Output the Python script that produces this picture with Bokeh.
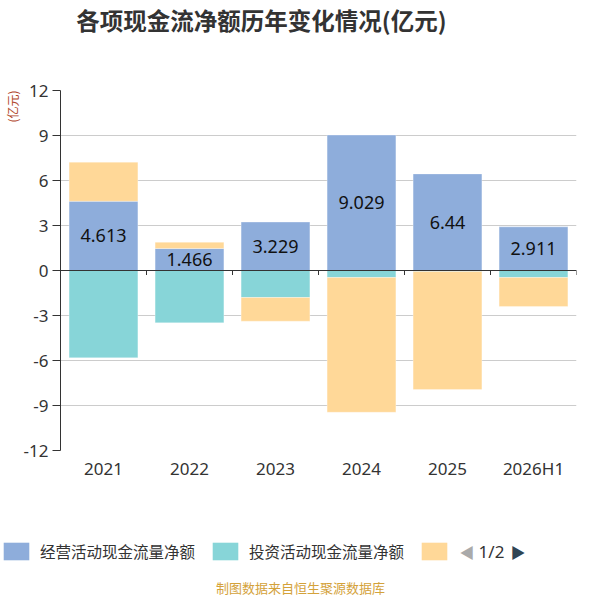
from bokeh.plotting import figure
from bokeh.models import (Span, Label, Legend, LegendItem, ColumnDataSource,
                          FixedTicker, Range1d, FactorRange, Title)
from bokeh.core.properties import value
from bokeh.embed import file_html
from bokeh.resources import INLINE

categories = ["2021", "2022", "2023", "2024", "2025", "2026H1"]
operating = [4.613, 1.466, 3.229, 9.029, 6.44, 2.911]
investing = [-5.82, -3.49, -1.80, -0.47, -0.06, -0.47]
financing = [2.61, 0.42, -1.58, -8.98, -7.88, -1.93]
series_names = ["经营活动现金流量净额", "投资活动现金流量净额", " "]
y_ticks = [-12, -9, -6, -3, 0, 3, 6, 9, 12]
title_text = "各项现金流净额历年变化情况(亿元)"
unit_text = "(亿元)"
source_text = "制图数据来自恒生聚源数据库"
page_text = "1/2"

colors = ["#8eaddb", "#87d5d8", "#ffd898"]
CJK = "Noto Sans CJK SC"
NUM = "Noto Sans"

W = 600
H0, H1, H2 = 40, 450, 106


def strip(h):
    f = figure(width=W, height=h, x_range=Range1d(0, W), y_range=Range1d(0, h),
               output_backend="svg", toolbar_location=None,
               min_border=0, min_border_left=0, min_border_right=0,
               min_border_top=0, min_border_bottom=0)
    f.axis.visible = False
    f.grid.visible = False
    f.outline_line_color = None
    return f


# top strip: title
t = strip(H0)
t.add_layout(Label(x=261, y=H0 - 19, text=title_text, text_align="center", text_baseline="middle",
                   text_font=CJK, text_font_size="23.5px", text_font_style="bold",
                   text_color="#333333"))

# main chart
p = figure(width=W, height=H1, x_range=FactorRange(*categories), y_range=Range1d(-12, 12),
           output_backend="svg", toolbar_location=None,
           min_border_left=60, min_border_right=24, min_border_top=90 - H0,
           min_border_bottom=H0 + H1 - 450)
p.outline_line_color = None
p.background_fill_color = "white"
p.border_fill_color = "white"

series = [operating, investing, financing]
pos_base = [0.0] * len(categories)
neg_base = [0.0] * len(categories)
renderers = []
for s, col in zip(series, colors):
    bottoms, tops = [], []
    for i, v in enumerate(s):
        if v >= 0:
            bottoms.append(pos_base[i]); tops.append(pos_base[i] + v); pos_base[i] += v
        else:
            bottoms.append(neg_base[i]); tops.append(neg_base[i] + v); neg_base[i] += v
    src = ColumnDataSource(dict(x=categories, top=tops, bottom=bottoms))
    r = p.vbar(x="x", top="top", bottom="bottom", width=0.8, source=src,
               fill_color=col, line_color="white", line_alpha=0.3, line_width=1)
    renderers.append(r)

lab_src = ColumnDataSource(dict(x=categories, y=[v / 2 for v in operating],
                                t=[("%g" % v) for v in operating]))
p.text(x="x", y="y", text="t", source=lab_src, text_align="center", text_baseline="middle",
       text_font=value(NUM), text_font_size="18px", text_color="#111111")

p.yaxis.ticker = FixedTicker(ticks=y_ticks)
p.yaxis.major_label_overrides = {tk: str(tk) for tk in y_ticks}
p.yaxis.axis_line_color = "#333333"
p.yaxis.major_tick_line_color = "#333333"
p.yaxis.major_tick_out = 8
p.yaxis.major_tick_in = 0
p.yaxis.minor_tick_line_color = None
p.yaxis.major_label_text_font = NUM
p.yaxis.major_label_text_font_size = "17px"
p.yaxis.major_label_text_color = "#333333"
p.yaxis.major_label_standoff = 4

p.xaxis.axis_line_color = None
p.xaxis.major_tick_line_color = None
p.xaxis.major_tick_out = 0
p.xaxis.major_tick_in = 0
p.xaxis.minor_tick_line_color = None
p.xaxis.major_label_text_font = NUM
p.xaxis.major_label_text_font_size = "17px"
p.xaxis.major_label_text_color = "#333333"
p.xaxis.major_label_standoff = 6

p.xgrid.grid_line_color = None
p.ygrid.grid_line_color = "#cccccc"
p.ygrid.grid_line_width = 1

p.add_layout(Title(text=unit_text, align="right", text_font=CJK, text_font_size="12px",
                   text_font_style="normal", text_color="#b0462a", standoff=0), "left")

p.add_layout(Span(location=0, dimension="width", line_color="#333333", line_width=1))
n = len(categories)
bx = [float(i) for i in range(1, n + 1)]
p.segment(x0=bx, y0=[0] * n, x1=bx, y1=[-0.3] * n, line_color="#333333", line_width=1)

# bottom strip: legend, pager, source note
q = strip(H2)
dummy = []
for col in colors:
    d = q.vbar(x=[0], top=[0], width=1, fill_color=col, line_color=None)
    d.visible = False
    dummy.append(d)
items = [LegendItem(label=nm, renderers=[r]) for nm, r in zip(series_names, dummy)]
legend = Legend(items=items, orientation="horizontal", location=(0, 34),
                glyph_width=32, glyph_height=22, label_text_font=CJK,
                label_text_font_size="15.5px", label_text_color="#333333",
                spacing=14, padding=0, margin=0, border_line_color=None,
                background_fill_alpha=0, label_standoff=8, label_height=22,
                inactive_fill_alpha=0, click_policy="none")
q.add_layout(legend, "center")

yrow = 45
q.add_layout(Label(x=459, y=yrow, text="◀", text_align="left", text_baseline="middle",
                   text_font=CJK, text_font_size="15px", text_color="#aaaaaa"))
q.add_layout(Label(x=491, y=yrow, text=page_text, text_align="center", text_baseline="middle",
                   text_font=NUM, text_font_size="17px", text_color="#333333"))
q.add_layout(Label(x=510, y=yrow, text="▶", text_align="left", text_baseline="middle",
                   text_font=CJK, text_font_size="15px", text_color="#2f4554"))
q.add_layout(Label(x=W / 2, y=9, text=source_text, text_align="center",
                   text_baseline="middle", text_font=CJK, text_font_size="13px",
                   text_color="#d4a23a"))

open("out.html", "w").write(file_html([t, p, q], INLINE))
